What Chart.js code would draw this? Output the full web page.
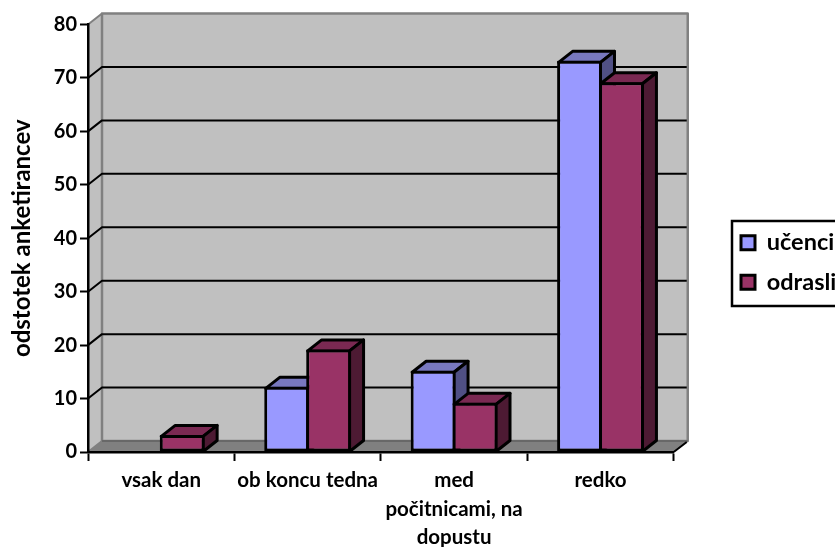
<!DOCTYPE html>
<html>
<head>
<meta charset="utf-8">
<style>
  html, body { margin: 0; padding: 0; background: #fff; overflow: hidden; }
  canvas { display: block; }
</style>
<script src="https://cdn.jsdelivr.net/npm/chart.js@4/dist/chart.umd.js"></script>
</head>
<body>
<canvas id="chart" width="835" height="547"></canvas>
<script>
const categories = ['vsak dan', 'ob koncu tedna', ['med', 'počitnicami, na', 'dopustu'], 'redko'];
const ucenciValues = [0, 12.2, 15.2, 73.2];
const odrasliValues = [3.2, 19.2, 9.2, 69.2];
const seriesNames = ['učenci', 'odrasli'];
const axisTitle = 'odstotek anketirancev';

const depthX = 14;
const depthY = 11;
const fontFamily = 'Lato, sans-serif';

function poly(ctx, points, fill, stroke, width) {
  ctx.beginPath();
  points.forEach((p, i) => i ? ctx.lineTo(p[0], p[1]) : ctx.moveTo(p[0], p[1]));
  ctx.closePath();
  if (fill) { ctx.fillStyle = fill; ctx.fill(); }
  if (stroke) { ctx.strokeStyle = stroke; ctx.lineWidth = width; ctx.stroke(); }
}

const walls = {
  id: 'walls',
  beforeDraw(chart) {
    const { ctx, chartArea: { left, right, top, bottom } } = chart;
    const y = chart.scales.y;
    ctx.save();
    ctx.lineJoin = 'round';
    poly(ctx, [[left, bottom], [left + depthX, bottom - depthY], [left + depthX, top - depthY], [left, top]], '#c0c0c0', null);
    poly(ctx, [[left + depthX, top - depthY], [right + depthX, top - depthY], [right + depthX, bottom - depthY], [left + depthX, bottom - depthY]], '#c0c0c0', '#808080', 2.5);
    poly(ctx, [[left, bottom], [left + depthX, bottom - depthY], [right + depthX, bottom - depthY], [right, bottom]], '#808080', null);
    ctx.strokeStyle = '#808080';
    ctx.lineWidth = 2;
    ctx.beginPath();
    ctx.moveTo(left, top); ctx.lineTo(left + depthX, top - depthY);
    ctx.moveTo(left, bottom); ctx.lineTo(left + depthX, bottom - depthY);
    ctx.stroke();
    ctx.strokeStyle = '#606060';
    ctx.lineWidth = 1.5;
    ctx.beginPath();
    ctx.moveTo(left + depthX, bottom - depthY); ctx.lineTo(right + depthX, bottom - depthY);
    ctx.stroke();
    ctx.strokeStyle = '#000';
    ctx.lineWidth = 2;
    ctx.beginPath();
    ctx.moveTo(right, bottom); ctx.lineTo(right + depthX - 1, bottom - depthY + 1);
    y.ticks.forEach(t => {
      if (t.value === y.min || t.value === y.max) return;
      const py = y.getPixelForValue(t.value);
      ctx.moveTo(left, py);
      ctx.lineTo(left + depthX, py - depthY);
      ctx.lineTo(right + depthX - 1, py - depthY);
    });
    ctx.stroke();
    ctx.restore();
  },
  beforeDatasetsDraw(chart) {
    const { ctx } = chart;
    const shades = [['#7878bf', '#505085'], ['#7a2952', '#4d1a33']];
    ctx.save();
    ctx.lineJoin = 'round';
    categories.forEach((_, i) => {
      chart.data.datasets.forEach((ds, d) => {
        if (!ds.data[i]) return;
        const bar = chart.getDatasetMeta(d).data[i];
        const half = bar.width / 2 - 1.5;
        const l = bar.x - half, r = bar.x + half, t = bar.y + 1.5, b = bar.base;
        poly(ctx, [[l, t], [l + depthX, t - depthY], [r + depthX, t - depthY], [r, t]], shades[d][0], '#000', 3);
        poly(ctx, [[r, t], [r + depthX, t - depthY], [r + depthX, b - depthY], [r, b]], shades[d][1], '#000', 3);
        bar.draw(ctx, chart.chartArea);
      });
    });
    ctx.restore();
    return false;
  },
  afterLayout(chart) {
    const lg = chart.legend;
    const w = lg.right - lg.left;
    lg.left = 725;
    lg.right = 725 + w;
    const h = lg.bottom - lg.top;
    lg.top = 215;
    lg.bottom = 215 + h;
  },
  afterDraw(chart) {
    const { ctx } = chart;
    ctx.save();
    ctx.strokeStyle = '#000';
    ctx.lineWidth = 2.5;
    ctx.strokeRect(732, 221, 120, 85);
    ctx.restore();
  }
};

new Chart(document.getElementById('chart'), {
  type: 'bar',
  data: {
    labels: categories,
    datasets: [
      { label: seriesNames[0], data: ucenciValues, backgroundColor: '#9999ff', borderColor: '#000', borderWidth: 3, borderSkipped: false },
      { label: seriesNames[1], data: odrasliValues, backgroundColor: '#993366', borderColor: '#000', borderWidth: 3, borderSkipped: false }
    ]
  },
  options: {
    responsive: false,
    animation: false,
    categoryPercentage: 0.573,
    barPercentage: 1.07,
    layout: { padding: { top: 24.5, left: 0, right: 40, bottom: 0 } },
    plugins: {
      tooltip: { enabled: false },
      legend: {
        position: 'right',
        align: 'start',
        labels: {
          color: '#000',
          boxWidth: 14,
          boxHeight: 14,
          padding: 16,
          font: { family: fontFamily, size: 23.5, weight: 'bold' }
        }
      }
    },
    scales: {
      x: {
        afterFit(scale) { scale.height = 95; },
        border: { color: '#000', width: 2.5, z: 1 },
        grid: { offset: true, drawOnChartArea: false, drawTicks: true, tickLength: 9, tickColor: '#000', tickWidth: 2 },
        ticks: {
          color: '#000',
          maxRotation: 0,
          autoSkip: false,
          padding: 5,
          font: { family: fontFamily, size: 20.5, weight: 'bold', lineHeight: 1.4 }
        }
      },
      y: {
        min: 0,
        max: 80,
        afterFit(scale) { scale.width = 88; },
        border: { color: '#000', width: 2.5, z: 1 },
        grid: { drawOnChartArea: false, drawTicks: true, tickLength: 8, tickColor: '#000', tickWidth: 2 },
        ticks: {
          stepSize: 10,
          color: '#000',
          padding: 3,
          font: { family: fontFamily, size: 20, weight: 'bold' }
        },
        title: {
          display: true,
          text: axisTitle,
          color: '#000',
          padding: { top: 8, bottom: 0 },
          font: { family: fontFamily, size: 24, weight: 'bold' }
        }
      }
    }
  },
  plugins: [walls]
});
</script>
</body>
</html>
